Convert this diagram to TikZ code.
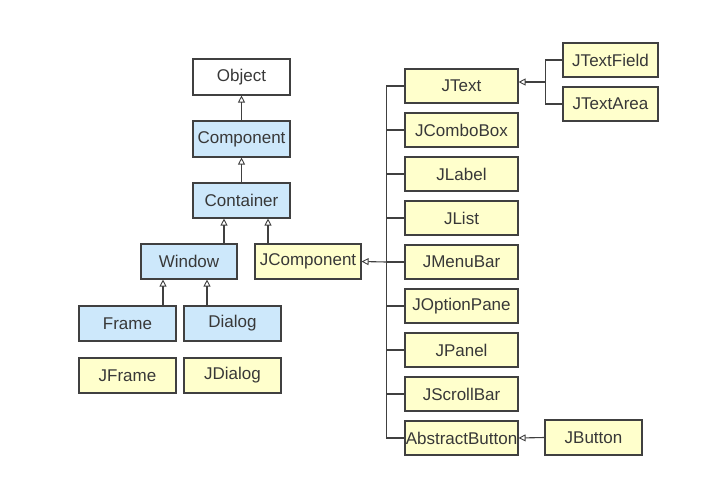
\documentclass[tikz,border=0pt]{standalone}
\usepackage{fontspec}
\setmainfont{Liberation Sans}
\usetikzlibrary{arrows.meta,calc}
\definecolor{bluebox}{HTML}{CDE8FB}
\definecolor{yellowbox}{HTML}{FFFFCC}
\definecolor{edge}{HTML}{404040}
\definecolor{txt}{HTML}{383838}
\tikzset{
  box/.style={draw=edge, line width=1.1pt, inner sep=0pt, minimum height=35pt,
    font=\fontsize{17}{19}\selectfont, text=txt},
  wbox/.style={box, fill=white},
  bbox/.style={box, fill=bluebox},
  ybox/.style={box, fill=yellowbox},
  conn/.style={draw=edge, line width=1.1pt},
  inh/.style={conn, -{Triangle[open, length=7pt, width=7pt, line width=0.9pt]}}
}
\begin{document}
\begin{tikzpicture}[x=1pt,y=1pt]
\useasboundingbox (0,0) rectangle (711,-480);
% left hierarchy
\node[wbox, minimum width=97pt, minimum height=36pt] (Object) at (241.5,-77) {Object};
\node[bbox, minimum width=97pt, minimum height=36pt] (Component) at (241.5,-139) {Component};
\node[bbox, minimum width=97pt] (Container) at (241.5,-200.5) {Container};
\node[bbox, minimum width=96pt] (Window) at (189,-261.5) {Window};
\node[ybox, minimum width=106pt] (JComponent) at (308,-261.5) {JComponent};
\node[bbox, minimum width=97pt] (Frame) at (127.5,-323.5) {Frame};
\node[bbox, minimum width=97pt] (Dialog) at (232.5,-323.5) {Dialog};
\node[ybox, minimum width=97pt] (JFrame) at (127.5,-375.5) {JFrame};
\node[ybox, minimum width=97pt] (JDialog) at (232.5,-375.5) {JDialog};
% right column
\foreach \n/\t [count=\i from 0] in {JText/JText, JComboBox/JComboBox, JLabel/JLabel, JList/JList, JMenuBar/JMenuBar, JOptionPane/JOptionPane, JPanel/JPanel, JScrollBar/JScrollBar, AbstractButton/AbstractButton}
  \node[ybox, minimum width=113pt, minimum height=34pt] (\n) at (461.5,{-86-44*\i}) {\t};
\node[ybox, minimum width=95pt, minimum height=34pt] (JTextField) at (610.5,-60) {JTextField};
\node[ybox, minimum width=95pt, minimum height=34pt] (JTextArea) at (610.5,-104) {JTextArea};
\node[ybox, minimum width=97pt] (JButton) at (593.5,-437.5) {JButton};
% connectors
\draw[inh] (Component.north) -- (Object.south);
\draw[inh] (Container.north) -- (Component.south);
\draw[inh] ($(Window.north)+(35,0)$) -- ($(Container.south)+(-17.5,0)$);
\draw[inh] ($(JComponent.north)+(-40,0)$) -- ($(Container.south)+(26.5,0)$);
\draw[inh] ($(Frame.north)+(35.5,0)$) -- ($(Window.south)+(-26,0)$);
\draw[inh] ($(Dialog.north)+(-25.5,0)$) -- ($(Window.south)+(18,0)$);
% bus
\draw[conn] (JText.west) -- ++(-18,0) coordinate (bt) |- (AbstractButton.west);
\foreach \n in {JComboBox,JLabel,JList,JMenuBar,JOptionPane,JPanel,JScrollBar}
  \draw[conn] (\n.west) -- (\n.west -| bt);
\draw[inh] (JMenuBar.west -| bt) -- (JComponent.east);
% JText children
\draw[conn] (JTextField.west) -- ++(-17,0) coordinate (tb) -- (tb |- JTextArea.west) -- (JTextArea.west);
\draw[inh] ($(tb |- JText.east)+(0,4)$) -- ($(JText.east)+(0,4)$);
\draw[inh] (JButton.west) -- (AbstractButton.east);
\end{tikzpicture}
\end{document}
